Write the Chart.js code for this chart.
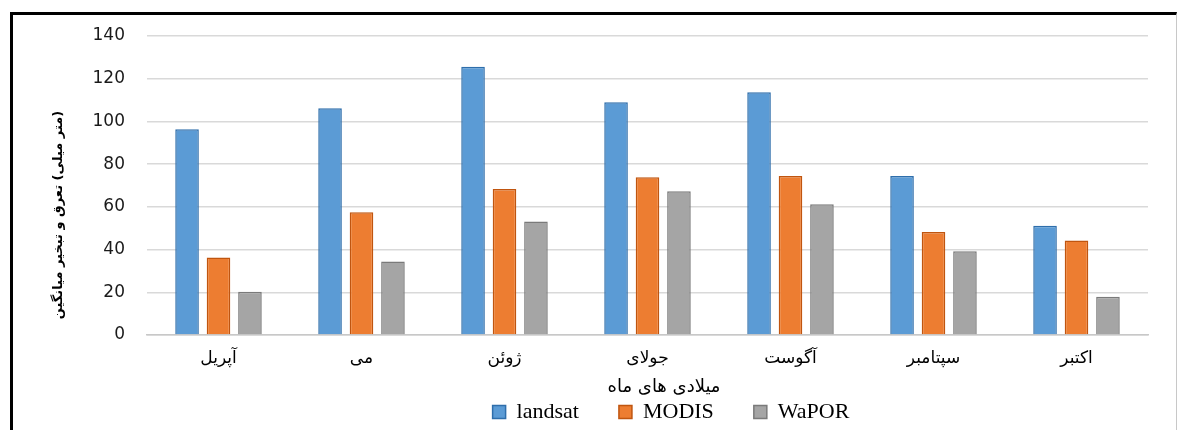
<!DOCTYPE html>
<html>
<head>
<meta charset="utf-8">
<script src="https://cdn.jsdelivr.net/npm/chart.js@4/dist/chart.umd.min.js"></script>
<style>
    html, body { margin: 0; padding: 0; background: #fff; }
    #wrap { position: absolute; left: 0; top: 0; width: 1183px; height: 430px; }
    #frame {
        position: absolute; left: 10px; top: 12px; width: 1163px; height: 430px;
        border-top: 3px solid #000; border-left: 3px solid #000; border-right: 1px solid #c8c8c8;
        pointer-events: none;
    }
</style>
</head>
<body>
<div id="wrap"><canvas id="etChart"></canvas></div>
<div id="frame"></div>
<script>
// ماه ها
const months = ['آپریل', 'می', 'ژوئن', 'جولای', 'آگوست', 'سپتامبر', 'اکتبر'];
// مقادیر خوانده شده از نمودار (میلی متر)
const landsat = [96.3, 106.2, 125.6, 109.0, 113.7, 74.4, 51.2];
const modis   = [36.3, 57.5, 68.4, 73.9, 74.4, 48.2, 44.2];
const wapor   = [20.3, 34.4, 53.2, 67.3, 61.2, 39.2, 17.9];
const yTicks  = [0, 20, 40, 60, 80, 100, 120, 140];
// عناوین محورها (به ترتیب کلمات مثل تصویر اصلی، چپ به راست)
const yTitleWords = ['میانگین', 'تبخیر', 'و', 'تعرق', '(میلی', 'متر)'];
const xTitleWords = ['ماه', 'های', 'میلادی'];

// کشیدن کلمات پشت سر هم از چپ به راست
function drawWords(ctx, words, x, y) {
    const space = ctx.measureText(' ').width;
    const widths = words.map(w => ctx.measureText(w).width);
    const total = widths.reduce((a, b) => a + b, 0) + space * (words.length - 1);
    let cx = x - total / 2;
    ctx.textAlign = 'left';
    words.forEach((w, i) => {
        ctx.fillText(w, cx, y);
        cx += widths[i] + space;
    });
}

const titlesPlugin = {
    id: 'axisTitles',
    afterLayout(chart) {
        // لژاند کمی به راست و بالا، مثل تصویر
        const lg = chart.legend;
        const dx = 671 - (lg.left + lg.right) / 2;
        lg.left += dx;
        lg.right += dx;
        lg.top -= 11;
        lg.bottom -= 11;
    },
    afterDraw(chart) {
        const ctx = chart.ctx;
        ctx.save();
        ctx.fillStyle = '#000';
        ctx.textBaseline = 'middle';
        // عنوان محور عمودی
        ctx.save();
        ctx.translate(59, 215);
        ctx.rotate(-Math.PI / 2);
        ctx.font = 'bold 13px "DejaVu Sans"';
        drawWords(ctx, yTitleWords, 0, 0);
        ctx.restore();
        // عنوان محور افقی
        ctx.font = '18px "DejaVu Sans"';
        drawWords(ctx, xTitleWords, 664, 387);
        ctx.restore();
    }
};

const ctx = document.getElementById('etChart').getContext('2d');
const chart = new Chart(ctx, {
    type: 'bar',
    data: {
        labels: months,
        datasets: [
            {
                label: 'landsat',
                data: landsat,
                backgroundColor: '#5b9bd5',
                borderColor: '#2e6eab',
                borderWidth: 1.5
            },
            {
                label: 'MODIS',
                data: modis,
                backgroundColor: '#ed7d31',
                borderColor: '#c0550f',
                borderWidth: 1.5
            },
            {
                label: 'WaPOR',
                data: wapor,
                backgroundColor: '#a5a5a5',
                borderColor: '#7a7a7a',
                borderWidth: 1.5
            }
        ]
    },
    options: {
        responsive: true,
        maintainAspectRatio: false,
        animation: false,
        datasets: {
            bar: {
                categoryPercentage: 0.66,
                barPercentage: 0.75
            }
        },
        layout: {
            padding: { left: 0, right: 35, top: 36, bottom: -14 }
        },
        plugins: {
            tooltip: { enabled: false },
            legend: {
                position: 'bottom',
                labels: {
                    color: '#000',
                    boxWidth: 13,
                    boxHeight: 13,
                    padding: 40,
                    font: { family: '"Liberation Serif"', size: 22 }
                }
            }
        },
        scales: {
            x: {
                grid: { display: false },
                border: { display: true, color: '#c8c8c8', width: 1.5 },
                ticks: {
                    color: '#000',
                    padding: 5,
                    font: { family: '"DejaVu Sans"', size: 17 }
                },
                afterFit(scale) { scale.height = 37; }
            },
            y: {
                min: 0,
                max: 140,
                afterBuildTicks(scale) {
                    scale.ticks = yTicks.map(v => ({ value: v }));
                },
                grid: { color: '#d9d9d9', lineWidth: 1.5, drawTicks: false },
                border: { display: false },
                ticks: {
                    color: '#1a1a1a',
                    padding: 22,
                    font: { family: '"DejaVu Sans"', size: 17 }
                },
                afterFit(scale) { scale.width = 147; }
            }
        }
    },
    plugins: [titlesPlugin]
});
</script>
</body>
</html>
